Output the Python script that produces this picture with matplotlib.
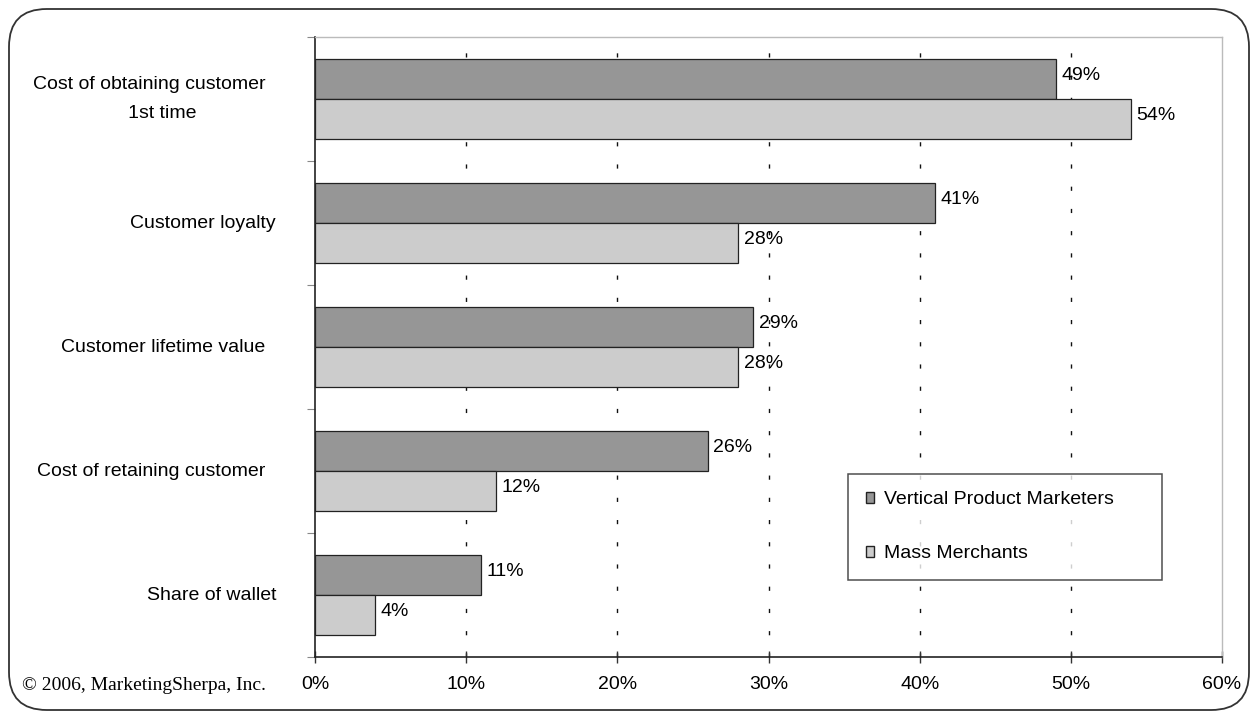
import matplotlib
matplotlib.use("Agg")
import matplotlib.pyplot as plt
from matplotlib.patches import FancyBboxPatch, Patch
import numpy as np

categories = ["Cost of obtaining customer  \n   1st time", "Customer loyalty",
              "Customer lifetime value  ", "Cost of retaining customer  ",
              "Share of wallet"]
vertical = [49, 41, 29, 26, 11]
mass = [54, 28, 28, 12, 4]
series_names = ["Vertical Product Marketers", "Mass Merchants"]
xticks = [0, 10, 20, 30, 40, 50, 60]

plt.rcParams['font.family'] = ['Liberation Sans', 'DejaVu Sans']
FS = 14

W, H = 1258, 719
fig = plt.figure(figsize=(W / 100, H / 100), dpi=100)

# rounded outer border
border = FancyBboxPatch((9 / W, 9 / H), (1249 - 9) / W, (710 - 9) / H,
                        boxstyle="round,pad=0,rounding_size=0.03",
                        transform=fig.transFigure, fill=False,
                        edgecolor="#333333", linewidth=1.3,
                        mutation_aspect=W / H)
fig.patches.append(border)

ax = fig.add_axes([315 / W, 1 - 657 / H, (1222 - 315) / W, (657 - 37) / H])

y = np.arange(len(categories))
h = 0.32
ax.barh(y - h / 2, vertical, height=h, color="#969696", edgecolor="#222222",
        linewidth=0.9, zorder=3)
ax.barh(y + h / 2, mass, height=h, color="#cccccc", edgecolor="#222222",
        linewidth=0.9, zorder=3)

for yi, v in zip(y - h / 2, vertical):
    ax.text(v + 0.35, yi - 0.03, f"{v}%", va="center", ha="left", fontsize=FS, zorder=4)
for yi, v in zip(y + h / 2, mass):
    ax.text(v + 0.35, yi - 0.03, f"{v}%", va="center", ha="left", fontsize=FS, zorder=4)

ax.set_xlim(0, 60)
ax.set_ylim(len(categories) - 0.5, -0.5)
ax.set_xticks(xticks)
ax.set_xticklabels([f"{t}%" for t in xticks], fontsize=FS)
ax.tick_params(axis="x", direction="inout", length=8, width=1, color="#333333", pad=10)

# y ticks at category boundaries, labels at centers
ax.set_yticks(np.arange(len(categories) + 1) - 0.5)
ax.set_yticklabels([])
ax.set_yticks(y, minor=True)
ax.set_yticklabels(categories, minor=True, fontsize=FS, multialignment="center")
for lbl in ax.get_yticklabels(minor=True):
    lbl.set_linespacing(1.85)
    lbl.set_va("center")
ax.tick_params(axis="y", which="major", direction="out", length=6, color="#888888")
ax.tick_params(axis="y", which="minor", length=0, pad=28)

for t in xticks[1:-1]:
    ax.axvline(t, color="#111111", linewidth=1, linestyle=(0, (3, 13)), zorder=1)

for s in ["top", "right"]:
    ax.spines[s].set_color("#bbbbbb")
    ax.spines[s].set_linewidth(1)
for s in ["left", "bottom"]:
    ax.spines[s].set_color("#222222")
    ax.spines[s].set_linewidth(1.2)

handles = [Patch(facecolor="#969696", edgecolor="#222222"),
           Patch(facecolor="#cccccc", edgecolor="#222222")]
leg = ax.legend(handles, series_names, loc="upper left",
                bbox_to_anchor=(848 / W, 1 - 581 / H, (1162 - 848) / W, (581 - 474) / H),
                bbox_transform=fig.transFigure, mode="expand",
                fontsize=FS, frameon=True, fancybox=False, edgecolor="#222222",
                handlelength=0.45, handleheight=0.55, handletextpad=0.5,
                labelspacing=1.9, borderpad=0.9, borderaxespad=0)
leg.get_frame().set_linewidth(1.1)

fig.text(22 / W, 1 - 685 / H, "© 2006, MarketingSherpa, Inc.", family="Liberation Serif",
         fontsize=FS, va="center", ha="left")

fig.savefig("out.png", dpi=100)
